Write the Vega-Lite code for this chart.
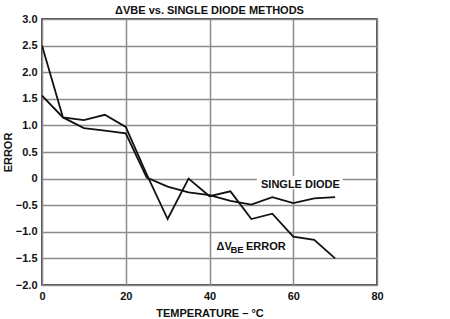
{
  "$schema": "https://vega.github.io/schema/vega-lite/v6.json",
  "width": 335,
  "height": 266,
  "autosize": {"type": "none"},
  "padding": {"left": 42, "top": 19, "right": 73, "bottom": 34},
  "background": "white",
  "title": {
    "text": "ΔVBE vs. SINGLE DIODE METHODS",
    "font": "Liberation Sans",
    "fontSize": 11,
    "fontWeight": "bold",
    "color": "#111",
    "anchor": "middle",
    "offset": 5,
    "dy": 8
  },
  "config": {
    "view": {"stroke": "#111", "strokeWidth": 1.5},
    "axis": {
      "labelFont": "Liberation Sans",
      "labelFontSize": 11,
      "labelFontWeight": "bold",
      "labelColor": "#111",
      "labelOverlap": false,
      "titleFont": "Liberation Sans",
      "titleFontSize": 11,
      "titleFontWeight": "bold",
      "titleColor": "#111",
      "domain": false,
      "ticks": false,
      "gridColor": "#8c8c8c",
      "gridWidth": 1.5,
      "gridOpacity": 1
    }
  },
  "datasets": {
    "curves": [
      {"temp": 0, "error": 2.5, "series": "dvbe"},
      {"temp": 5, "error": 1.15, "series": "dvbe"},
      {"temp": 10, "error": 1.1, "series": "dvbe"},
      {"temp": 15, "error": 1.2, "series": "dvbe"},
      {"temp": 20, "error": 0.97, "series": "dvbe"},
      {"temp": 25, "error": 0.08, "series": "dvbe"},
      {"temp": 30, "error": -0.76, "series": "dvbe"},
      {"temp": 35, "error": 0.0, "series": "dvbe"},
      {"temp": 40, "error": -0.33, "series": "dvbe"},
      {"temp": 45, "error": -0.24, "series": "dvbe"},
      {"temp": 50, "error": -0.76, "series": "dvbe"},
      {"temp": 55, "error": -0.66, "series": "dvbe"},
      {"temp": 60, "error": -1.09, "series": "dvbe"},
      {"temp": 65, "error": -1.15, "series": "dvbe"},
      {"temp": 70, "error": -1.5, "series": "dvbe"},
      {"temp": 0, "error": 1.56, "series": "single"},
      {"temp": 5, "error": 1.15, "series": "single"},
      {"temp": 10, "error": 0.95, "series": "single"},
      {"temp": 15, "error": 0.9, "series": "single"},
      {"temp": 20, "error": 0.85, "series": "single"},
      {"temp": 25, "error": 0.02, "series": "single"},
      {"temp": 30, "error": -0.15, "series": "single"},
      {"temp": 35, "error": -0.26, "series": "single"},
      {"temp": 40, "error": -0.31, "series": "single"},
      {"temp": 45, "error": -0.42, "series": "single"},
      {"temp": 50, "error": -0.49, "series": "single"},
      {"temp": 55, "error": -0.35, "series": "single"},
      {"temp": 60, "error": -0.46, "series": "single"},
      {"temp": 65, "error": -0.37, "series": "single"},
      {"temp": 70, "error": -0.35, "series": "single"}
    ],
    "mask": [
      {"temp": 51.3, "temp2": 71.8, "error": -0.2, "error2": 0.05}
    ],
    "mainLabels": [
      {"temp": 52.3, "error": -0.18, "label": "SINGLE DIODE"},
      {"temp": 41.7, "error": -1.342, "label": "ΔV"},
      {"temp": 48.7, "error": -1.342, "label": "ERROR"}
    ],
    "subLabels": [
      {"temp": 45.0, "error": -1.393, "label": "BE"}
    ]
  },
  "encoding": {
    "x": {
      "field": "temp",
      "type": "quantitative",
      "title": "TEMPERATURE – °C",
      "scale": {"domain": [0, 80], "nice": false},
      "axis": {"values": [0, 20, 40, 60, 80], "labelPadding": 5, "titlePadding": 6, "labelFlush": false, "labelOverlap": false}
    },
    "y": {
      "field": "error",
      "type": "quantitative",
      "title": "ERROR",
      "scale": {"domain": [-2, 3], "nice": false},
      "axis": {
        "values": [-2, -1.5, -1, -0.5, 0, 0.5, 1, 1.5, 2, 2.5, 3],
        "labelExpr": "datum.value == 0 ? '0' : format(datum.value, '.1f')",
        "labelPadding": 5,
        "titlePadding": 2,
        "labelFlush": false,
        "labelOverlap": false
      }
    }
  },
  "layer": [
    {
      "data": {"name": "curves"},
      "mark": {"type": "line", "color": "#111", "strokeWidth": 1.8, "clip": true},
      "encoding": {
        "detail": {"field": "series"}
      }
    },
    {
      "data": {"name": "mask"},
      "mark": {"type": "rect", "fill": "white", "stroke": null},
      "encoding": {
        "x2": {"field": "temp2"},
        "y2": {"field": "error2"}
      }
    },
    {
      "data": {"name": "mainLabels"},
      "mark": {"type": "text", "align": "left", "baseline": "alphabetic", "font": "Liberation Sans", "fontSize": 11, "fontWeight": "bold", "color": "#111"},
      "encoding": {
        "text": {"field": "label"}
      }
    },
    {
      "data": {"name": "subLabels"},
      "mark": {"type": "text", "align": "left", "baseline": "alphabetic", "font": "Liberation Sans", "fontSize": 9.5, "fontWeight": "bold", "color": "#111"},
      "encoding": {
        "text": {"field": "label"}
      }
    }
  ]
}
